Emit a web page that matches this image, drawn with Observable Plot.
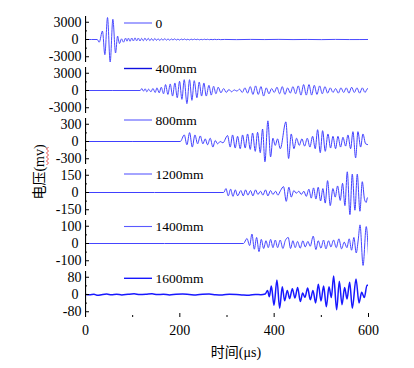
<!DOCTYPE html>
<html><head><meta charset="utf-8">
<script src="https://cdn.jsdelivr.net/npm/d3@7"></script>
<script src="https://cdn.jsdelivr.net/npm/@observablehq/plot@0.6"></script>
<style>
body{margin:0;background:#fff;}
#chart{position:relative;width:414px;height:368px;font-family:"Liberation Serif","Times New Roman",serif;overflow:hidden;}
#chart svg{position:absolute;left:0;overflow:visible;}
</style></head><body><div id="chart"></div>
<script>
// ---- data ----
const legendLabels = ["0", "400mm", "800mm", "1200mm", "1400mm", "1600mm"];
const yTicks = [3000, 3000, 300, 150, 100, 80];
const yLimits = [4000, 4000, 400, 200, 133.3, 106.7];
const xTicks = [0, 200, 400, 600];
const xMinorTicks = [100, 300, 500];
const xDomain = [0, 600];
const xLabel = "时间(μs)";
const yLabel = "电压(mv)";

const s0 = [[0,0],[25,0],[29,-470],[36,1470],[41,-2640],[46.7,3820],[52.3,-3950],[58,3520],[63.7,-2350],[68,590],[72,-700],[76.4,120],[80.6,-470],[85,240],
[88,-290],[91,230],[94.5,-300],[98,260],[101.5,-250],[105,280],[108.5,-230],[112,250],[115.5,-260],[119,200],[122.5,-220],[126,240],[129.5,-180],[133,210],[136.5,-200],[140,160],[143.5,-190],[147,180],[150.5,-150],[154,140],[157.5,-170],[161,120],[164.5,-130],[168,150],[171.5,-110],[175,100],[178.5,-120],[182,90],[185.5,-80],[189,110],[192.5,-90],[196,70],[199.5,-100],[203,80],[206.5,-60],[210,90],[213.5,-70],[217,50],[220.5,-80],[224,60],[227.5,-50],[231,70],[234.5,-40],[238,50],[241.5,-60],[245,30],[248.5,-40],[252,50],[255.5,-30],[259,40],[262.5,-40],[266,20],[270,-30],[274,30],[278,-20],[282,20],[286,-20],[295,10],[320,-20],[350,15],[380,-10],[410,20],[440,-15],[470,10],[500,-20],[530,15],[560,-10],[600,0]];

const s400 = [[0,0],[116,0],[119.5,340],[123,-110],[126.6,290],[130,-230],[133.7,230],[138.6,-230],[142.9,340],[147.8,-340],[151.4,460],[156.3,-400],[160.6,570],[165.5,-570],[169.7,1030],[174.7,-680],[179.6,1140],[184.6,-970],[189.5,1310],[194.5,-1250],[199.4,1600],[204.4,-1540],[209.3,1880],[215,-2280],[220.6,1880],[225.6,-1710],[230.5,1710],[236.2,-1250],[241.1,1480],[246.1,-970],[251,1310],[256,-970],[261.7,910],[266.6,-800],[271.6,740],[276.5,-570],[281.4,570],[287.1,-400],[292.8,340],[298.4,-340],[304.1,170],[309.7,-230],[315.4,110],[321,-110],[326.7,230],[332.4,-340],[338,460],[343.7,-460],[349.3,680],[355,-680],[360.6,800],[366.3,-680],[372,680],[377.6,-970],[383.3,460],[388.9,-570],[394.6,340],[400.2,-340],[405.9,570],[411.5,-570],[417.2,680],[422.8,-680],[428.5,460],[434.2,-460],[439.8,680],[445.5,-570],[451.1,800],[456.8,-800],[462.4,1030],[468.1,-800],[473.8,1030],[479.4,-800],[485.1,910],[490.7,-680],[496.4,800],[502,-570],[507.7,680],[513.3,-460],[519,460],[524.7,-340],[530.3,340],[536,-460],[541.6,460],[547.3,-340],[552.9,460],[558.6,-460],[564.2,570],[569.9,-340],[575.6,460],[581.2,-460],[586.9,460],[592.5,-340],[598.2,340],[600,110]];

const s800 = [[0,0],[201,0],[209.4,114],[215,-57],[220.7,154],[226.4,-97],[232,114],[237.7,-40],[243.3,97],[248.9,-40],[253.8,46],[258.8,-57],[264.4,57],[270.1,-97],[275,17],[280,-40],[285.6,0],[291.3,-23],[301.2,103],[306.8,-97],[311.8,114],[317.4,-114],[322.4,91],[328,-125],[333,114],[338.6,-114],[343.6,131],[349.3,-137],[354.2,148],[359.9,-171],[364.8,160],[370.5,-194],[375.4,217],[380.4,-353],[386.7,359],[392.4,-268],[397.3,57],[402.3,-68],[407.2,46],[412.9,-125],[424.9,342],[430.6,-296],[436.2,131],[441.9,-125],[447.5,57],[453.2,-68],[458.8,46],[464.5,-80],[470.2,57],[475.8,-97],[481.5,91],[487.1,-125],[492.1,205],[497.7,-194],[502.7,188],[508.3,-171],[514,131],[519.6,-114],[524.6,91],[530.2,-125],[535.2,91],[540.8,-97],[545.8,74],[551.5,-80],[556.4,114],[562.1,-125],[567,171],[572.7,-285],[577.6,171],[583.3,-97],[588.2,131],[593.9,-40],[600,-57]];

const s1200 = [[0,0],[293,0],[297.8,34],[302.7,-29],[307.7,29],[312.6,-34],[317.6,23],[322.5,-29],[329.4,17],[334.4,-29],[339.3,23],[344.3,-23],[349.9,17],[354.9,-29],[360.5,23],[365.5,-17],[371.1,11],[376.1,-23],[381.7,23],[386.7,-29],[392.3,17],[397.3,-17],[403,11],[407.9,-23],[413.5,17],[419.9,51],[425.6,-77],[431.2,46],[436.2,-40],[441.8,17],[446.8,-6],[452.4,11],[457.4,-17],[463,11],[468,-34],[473.6,29],[478.6,-49],[483.5,40],[488.5,-57],[493.4,46],[498.4,-74],[503.3,34],[508.3,-92],[513.2,103],[518.9,-114],[524.5,34],[529.5,-40],[534.4,57],[540.1,-69],[545,80],[550,-114],[555,180],[560.6,-192],[565.6,160],[571.2,-154],[576.2,160],[581.8,-163],[586.8,94],[591.7,-63],[595.2,-86],[597.4,-49],[600,-40]];

const s1400 = [[0,0],[335,0],[342.3,29],[348,-12],[352.9,55],[357.9,-33],[362.8,35],[367.8,-47],[372.7,24],[377.7,-29],[382.6,16],[387.5,-24],[392.5,24],[397.4,-24],[402.4,20],[407.3,-24],[412.8,20],[418.5,-29],[423.4,16],[429.8,35],[434.7,-29],[439.7,16],[444.6,-24],[449.6,12],[455.2,-27],[460.9,16],[465.8,-20],[471.5,12],[476.4,-16],[482.8,43],[488.5,-35],[493.4,16],[499.1,-27],[504.7,20],[509.7,-31],[515.3,16],[520.3,-20],[525.9,20],[531.6,-24],[537.2,27],[542.9,-31],[548.5,8],[554.2,-24],[559.1,27],[564.1,-39],[569,35],[574,-55],[578.2,20],[582,108],[588.5,-127],[595.2,98],[600,-69]];

const s1600 = [[0,0],[9,-1],[18,1],[26,-4],[34,-1],[45,2],[55,-1],[66,1],[77,-2],[90,1],[103,3],[115,0],[128,1],[141,3],[152,0],[165,1],[178,-2],[192,1],[206,2],[220,0],[234,-2],[248,1],[262,2],[276,-1],[290,-2],[305,1],[320,0],[334,-2],[347,-3],[360,0],[372,-1],[381,2],[386,19],[389.7,-10],[394,39],[399.6,-50],[405.9,67],[411.6,-64],[417.2,36],[422.2,-29],[427.8,19],[432.8,-19],[438.5,27],[444.1,-16],[449.8,33],[455.4,-33],[460.4,7],[465.3,-13],[471,30],[476.6,-24],[482.3,19],[487.9,-39],[493.6,47],[499.3,-30],[504.9,39],[510.6,-57],[516.2,36],[521.2,-14],[526.1,86],[532.5,-71],[538.1,61],[543.8,-47],[549.4,33],[554.4,-21],[560.1,57],[565.7,-64],[573.5,72],[579.9,-39],[585.5,10],[591.2,-14],[596.8,43],[600,43]];

const series = [s0, s400, s800, s1200, s1400, s1600];
const lineColors = ["#4a4aff", "#4a4aff", "#4040ff", "#4040ff", "#4545ff", "#1818ff"];
const legendColors = ["#5a5aff", "#1010e0", "#5a5aff", "#5a5aff", "#5a5aff", "#1818ff"];

// ---- layout ----
const W = 414, ML = 85, MR = 46, PH = 46, TOP0 = 16, STEP = 51;
const legendDy = [7, 1.5, 2, 5, 6.5, 7.3];
const chart = document.getElementById("chart");
const font = "'Liberation Serif','Times New Roman',serif";

series.forEach((s, i) => {
  const last = i === series.length - 1;
  const N = yTicks[i], L = yLimits[i];
  const marks = [
    Plot.line(s, {x: d => d[0], y: d => d[1], stroke: lineColors[i], strokeWidth: last ? 1.5 : 1, curve: "monotone-x"}),
    Plot.ruleX([xDomain[0]], {stroke: "black", strokeWidth: 1.2}),
    Plot.axisY({ticks: [-N, N], tickSize: 0, tickPadding: 4, tickFormat: d => String(d), fontSize: 14, label: null}),
    Plot.axisY({ticks: [0], tickSize: 0, tickPadding: 7, tickFormat: d => String(d), fontSize: 14, label: null}),
    Plot.axisY({ticks: [-N, 0, N], tickSize: 4, dx: 4, tickFormat: () => "", label: null}),
    Plot.axisY({ticks: [-N / 2, N / 2], tickSize: 2, dx: 2, tickFormat: () => "", label: null})
  ];
  if (last) {
    marks.push(
      Plot.ruleY([-L], {stroke: "black", strokeWidth: 1.2}),
      Plot.axisX({ticks: xTicks, tickSize: 0, tickPadding: 8, tickFormat: d => String(d), fontSize: 14, label: null}),
      Plot.axisX({ticks: xTicks, tickSize: 4, dy: -4, tickFormat: () => "", label: null}),
      Plot.axisX({ticks: xMinorTicks, tickSize: 2, dy: -2, tickFormat: () => "", label: null})
    );
  }
  const p = Plot.plot({
    width: W, height: PH + (last ? 30 : 0),
    marginLeft: ML, marginRight: MR, marginTop: 0, marginBottom: last ? 30 : 0,
    x: {domain: xDomain, axis: last ? undefined : null},
    y: {domain: [-L, L]},
    clip: true,
    style: {fontFamily: font, fontSize: "14px", color: "black", background: "transparent", overflow: "visible"},
    marks
  });
  p.style.top = (TOP0 + STEP * i) + "px";
  chart.appendChild(p);
});

// overlay: legends and axis titles
const ov = d3.select(chart).append("svg").attr("width", W).attr("height", 368).style("top", "0px");
legendLabels.forEach((lab, i) => {
  const y = TOP0 + STEP * i + legendDy[i];
  ov.append("line").attr("x1", 124).attr("x2", 152).attr("y1", y).attr("y2", y)
    .attr("stroke", legendColors[i]).attr("stroke-width", i === 1 || i === 5 ? 1.4 : 1.1);
  ov.append("text").attr("x", 155.5).attr("y", y + 4.6).text(lab)
    .attr("font-family", font).attr("font-size", 13.5).attr("fill", "black");
});
ov.append("text").attr("x", 236).attr("y", 357).attr("text-anchor", "middle")
  .attr("font-family", "'Liberation Serif','Noto Sans CJK SC',serif").attr("font-size", 14).text(xLabel);
ov.append("text").attr("transform", "translate(44,172) rotate(-90)").attr("text-anchor", "middle")
  .attr("font-family", "'Liberation Serif','Noto Sans CJK SC',serif").attr("font-size", 14).text(yLabel);
// spell-check squiggle under "mv"
const zz = [];
for (let k = 0; k <= 9; k++) zz.push([k % 2 ? 48.5 : 46.5, 165 - k * 2]);
ov.append("polyline").attr("points", zz.map(p => p.join(",")).join(" "))
  .attr("fill", "none").attr("stroke", "#e02020").attr("stroke-width", 0.8);
</script></body></html>
